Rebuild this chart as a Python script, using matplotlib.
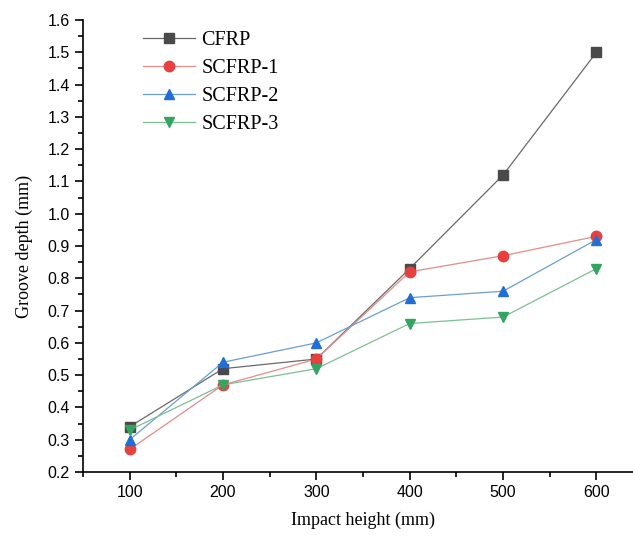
import matplotlib
matplotlib.use("Agg")
import matplotlib.pyplot as plt
from matplotlib.ticker import MultipleLocator

heights = [100, 200, 300, 400, 500, 600]
cfrp = [0.34, 0.52, 0.55, 0.83, 1.12, 1.50]
scfrp1 = [0.27, 0.47, 0.55, 0.82, 0.87, 0.93]
scfrp2 = [0.30, 0.54, 0.60, 0.74, 0.76, 0.92]
scfrp3 = [0.33, 0.47, 0.52, 0.66, 0.68, 0.83]
names = ["CFRP", "SCFRP-1", "SCFRP-2", "SCFRP-3"]

fig = plt.figure(figsize=(6.33, 5.41), dpi=100)
ax = fig.add_axes([0.131, 0.1275, 0.885, 0.8355])

styles = [
    ("s", "#4a4a4a", "#6a6a6a"),
    ("o", "#e8403f", "#e88a8a"),
    ("^", "#1f6fd6", "#6a9fd0"),
    ("v", "#35a462", "#7cbf95"),
]
for ys, name, (mk, mc, lc) in zip([cfrp, scfrp1, scfrp2, scfrp3], names, styles):
    ax.plot(heights, ys, color=lc, lw=0.9, marker=mk, ms=7.5,
            markerfacecolor=mc, markeredgecolor=mc, label=name)

ax.set_xlim(50, 650)
ax.set_ylim(0.2, 1.6)
ax.xaxis.set_major_locator(MultipleLocator(100))
ax.xaxis.set_minor_locator(MultipleLocator(50))
ax.yaxis.set_major_locator(MultipleLocator(0.1))
ax.yaxis.set_minor_locator(MultipleLocator(0.05))
ax.spines["top"].set_visible(False)
ax.spines["right"].set_visible(False)
ax.spines["left"].set_linewidth(1.2)
ax.spines["bottom"].set_linewidth(1.2)
ax.tick_params(which="major", direction="out", length=6, width=1.2,
               labelsize=11.5)
ax.tick_params(which="minor", direction="out", length=3.5, width=1.2)
ax.set_xticks([100, 200, 300, 400, 500, 600])
ax.set_xticklabels(["100", "200", "300", "400", "500", "600"],
                   family="Liberation Sans")
ax.set_yticklabels([f"{v:.1f}" for v in ax.get_yticks()],
                   family="Liberation Sans")

ax.set_xlabel("Impact height (mm)", family="Liberation Serif", fontsize=13,
              labelpad=8)
ax.set_ylabel("Groove depth (mm)", family="Liberation Serif", fontsize=13,
              labelpad=10)

leg = ax.legend(loc="upper left", bbox_to_anchor=(0.075, 1.017), frameon=False,
                prop={"family": "Liberation Serif", "size": 14.5},
                handlelength=2.6, labelspacing=0.45, handletextpad=0.3)

fig.savefig("out.png", dpi=100)
